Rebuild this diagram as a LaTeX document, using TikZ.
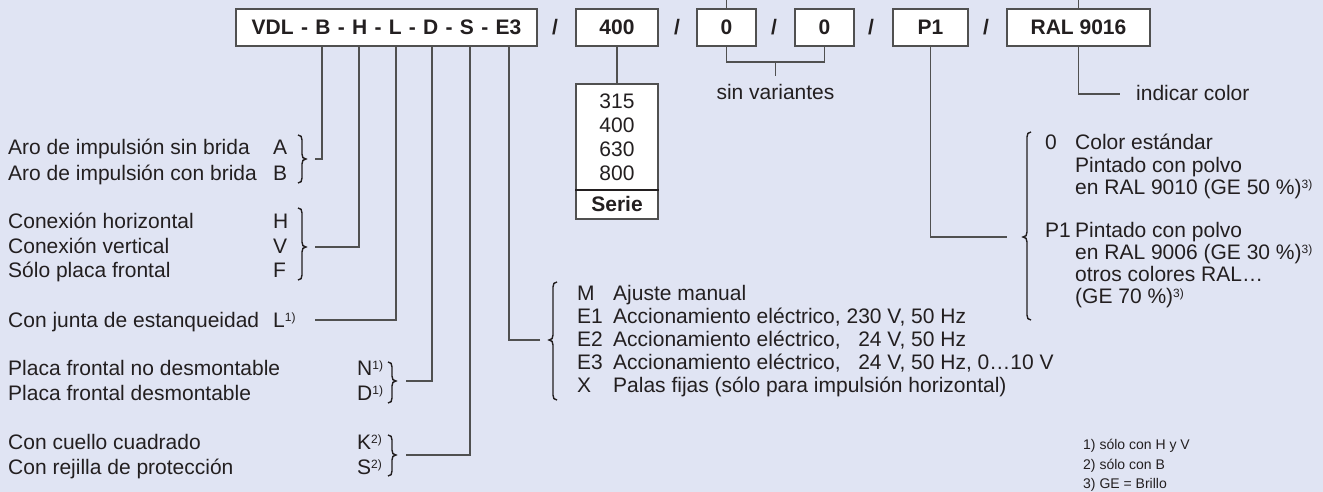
\documentclass[tikz,border=0pt]{standalone}
\usepackage{fontspec}
\setmainfont{Liberation Sans}
\usetikzlibrary{calc}
\definecolor{bg}{RGB}{224,228,243}
\definecolor{ln}{RGB}{80,80,80}
\definecolor{txt}{RGB}{35,31,32}
\newcommand\fnm[1]{\raisebox{6pt}{\fontsize{12}{12}\selectfont #1}}
% "}" brace: x, ytop, ytip, ybottom
\newcommand\mybracer[4]{%
 \draw[brc] ({#1-4},#2) .. controls ({#1-1},#2) and (#1,{#2+2}) .. (#1,{#2+5}) -- (#1,{#3-5}) .. controls (#1,{#3-2}) and ({#1+1},#3) .. ({#1+4},#3) .. controls ({#1+1},#3) and (#1,{#3+2}) .. (#1,{#3+5}) -- (#1,{#4-5}) .. controls (#1,{#4-2}) and ({#1-1},#4) .. ({#1-4},#4);}
% "{" brace
\newcommand\mybracel[4]{%
 \draw[brc] ({#1+4},#2) .. controls ({#1+1},#2) and (#1,{#2+2}) .. (#1,{#2+5}) -- (#1,{#3-5}) .. controls (#1,{#3-2}) and ({#1-1},#3) .. ({#1-4},#3) .. controls ({#1-1},#3) and (#1,{#3+2}) .. (#1,{#3+5}) -- (#1,{#4-5}) .. controls (#1,{#4-2}) and ({#1+1},#4) .. ({#1+4},#4);}
\begin{document}
\begin{tikzpicture}[x=1pt,y=-1pt,
  lbl/.style={anchor=base west,inner sep=0pt,text=txt,font=\fontsize{21}{24}\selectfont},
  num/.style={anchor=base,inner sep=0pt,text=txt,font=\fontsize{21}{24}\selectfont},
  box/.style={draw=ln,line width=1.4pt,fill=white,inner sep=0pt,minimum height=37pt,text=txt,font=\bfseries\fontsize{21}{24}\selectfont},
  slash/.style={inner sep=0pt,text=txt,font=\bfseries\fontsize{21}{24}\selectfont},
  con/.style={draw=ln,line width=1.3pt},
  brc/.style={draw=txt,line width=1.4pt},
  fnote/.style={anchor=base west,inner sep=0pt,text=txt,font=\fontsize{14}{16}\selectfont}]
\fill[bg] (0,0) rectangle (1323,492);
\useasboundingbox (0,0) rectangle (1323,492);

% top row
\node[box,minimum width=301pt] (vdl) at (386.5,27.5) {\spaceskip=7.3pt VDL - B - H - L - D - S - E3};
\node[slash] (s1) at (555,27.5) {/};
\node[box,minimum width=82pt] (n400) at (617,27.5) {400};
\node[slash] (s2) at (677,27.5) {/};
\node[box,minimum width=59pt] (z1) at (726.5,27.5) {0};
\node[slash] (s3) at (774,27.5) {/};
\node[box,minimum width=59pt] (z2) at (824.5,27.5) {0};
\node[slash] (s4) at (871,27.5) {/};
\node[box,minimum width=75pt] (p1) at (930.5,27.5) {P1};
\node[slash] (s5) at (986,27.5) {/};
\node[box,minimum width=143pt] (ral) at (1078.5,27.5) {RAL 9016};

\coordinate (up1) at (726.5,0);
\coordinate (up2) at (1078.5,0);
\draw[con] (z1.north) -- (up1);
\draw[con] (ral.north) -- (up2);

% series box
\node[draw=ln,line width=1.4pt,fill=white,minimum width=82pt,minimum height=135pt,inner sep=0pt] (ser) at (617,151.5) {};
\draw[con] (n400.south) -- (ser.north);
\draw[draw=txt,line width=2.6pt] (ser.west |- 0,190) -- (ser.east |- 0,190);
\node[num] (r1) at (617,108.5) {315};
\node[num] (r2) at (617,132.5) {400};
\node[num] (r3) at (617,156.5) {630};
\node[num] (r4) at (617,180.5) {800};
\node[num,font=\bfseries\fontsize{21}{24}\selectfont] (rs) at (617,211.5) {Serie};

% sin variantes
\coordinate (sv) at (775.5,76);
\draw[con] (z1.south) -- (z1.south |- 0,62) -- (z2.south |- 0,62) -- (z2.south);
\draw[con] (sv |- 0,62) -- (sv);
\node[num] (sinv) at (775.5,100) {sin variantes};

% indicar color
\coordinate (ic) at (1120,94);
\draw[con] (ral.south) |- (ic);
\node[lbl] (icol) at (1136,101) {indicar color};

% left column
\node[lbl] (tA) at (8,154.5) {Aro de impulsión sin brida};
\node[lbl] (cA) at (273,154.5) {A};
\node[lbl] (tB) at (8,180.5) {Aro de impulsión con brida};
\node[lbl] (cB) at (273,180.5) {B};
\node[lbl] (tH) at (8,228.5) {Conexión horizontal};
\node[lbl] (cH) at (273,228.5) {H};
\node[lbl] (tV) at (8,253.5) {Conexión vertical};
\node[lbl] (cV) at (273,253.5) {V};
\node[lbl] (tF) at (8,277.5) {Sólo placa frontal};
\node[lbl] (cF) at (273,277.5) {F};
\node[lbl] (tL) at (8,327.5) {Con junta de estanqueidad};
\node[lbl] (cL) at (273,327.5) {L\fnm{1)}};
\node[lbl] (tN) at (8,375.5) {Placa frontal no desmontable};
\node[lbl] (cN) at (357,375.5) {N\fnm{1)}};
\node[lbl] (tD) at (8,400.5) {Placa frontal desmontable};
\node[lbl] (cD) at (357,400.5) {D\fnm{1)}};
\node[lbl] (tK) at (8,449.5) {Con cuello cuadrado};
\node[lbl] (cK) at (357,449.5) {K\fnm{2)}};
\node[lbl] (tS) at (8,474.5) {Con rejilla de protección};
\node[lbl] (cS) at (357,474.5) {S\fnm{2)}};

\mybracer{302}{135}{159}{183}
\mybracer{302}{208}{247}{280}
\mybracer{392}{362}{381}{403}
\mybracer{392}{435}{455}{476}

\coordinate (kA) at (315,159);
\coordinate (kH) at (315,247);
\coordinate (kL) at (315,320);
\coordinate (kN) at (406,381);
\coordinate (kK) at (406,455);
\draw[con] (kA) -| (vdl.south -| 322,0);
\draw[con] (kH) -| (vdl.south -| 359,0);
\draw[con] (kL) -| (vdl.south -| 396,0);
\draw[con] (kN) -| (vdl.south -| 432,0);
\draw[con] (kK) -| (vdl.south -| 470,0);

% middle group
\coordinate (kE) at (540,340);
\draw[con] (kE) -| (vdl.south -| 509,0);
\mybracel{553}{282}{340}{400}
\node[lbl] (mM) at (577,300.5) {M};
\node[lbl] (dM) at (613,300.5) {Ajuste manual};
\node[lbl] (mE1) at (577,323.5) {E1};
\node[lbl] (dE1) at (613,323.5) {Accionamiento eléctrico, 230 V, 50 Hz};
\node[lbl] (mE2) at (577,346.5) {E2};
\node[lbl] (dE2) at (613,346.5) {Accionamiento eléctrico, \hphantom{2}24 V, 50 Hz};
\node[lbl] (mE3) at (577,369.5) {E3};
\node[lbl] (dE3) at (613,369.5) {Accionamiento eléctrico, \hphantom{2}24 V, 50 Hz, 0…10 V};
\node[lbl] (mX) at (577,392.5) {X};
\node[lbl] (dX) at (613,392.5) {Palas fijas (sólo para impulsión horizontal)};

% right group
\coordinate (kP) at (1007,237);
\draw[con] (p1.south) |- (kP);
\mybracel{1027}{132}{237}{320}
\node[lbl] (m0) at (1045,149.5) {0};
\node[lbl] (d01) at (1075,149.5) {Color estándar};
\node[lbl] (d02) at (1075,172.5) {Pintado con polvo};
\node[lbl] (d03) at (1075,194.5) {en RAL 9010 (GE 50 \%)\fnm{3)}};
\node[lbl] (mP) at (1045,237.5) {P1};
\node[lbl] (dP1) at (1075,237.5) {Pintado con polvo};
\node[lbl] (dP2) at (1075,259.5) {en RAL 9006 (GE 30 \%)\fnm{3)}};
\node[lbl] (dP3) at (1075,281.5) {otros colores RAL…};
\node[lbl] (dP4) at (1075,303.5) {(GE 70 \%)\fnm{3)}};

% footnotes
\node[fnote] (f1) at (1083,449) {1) sólo con H y V};
\node[fnote] (f2) at (1083,469) {2) sólo con B};
\node[fnote] (f3) at (1083,488) {3) GE = Brillo};
\end{tikzpicture}
\end{document}
